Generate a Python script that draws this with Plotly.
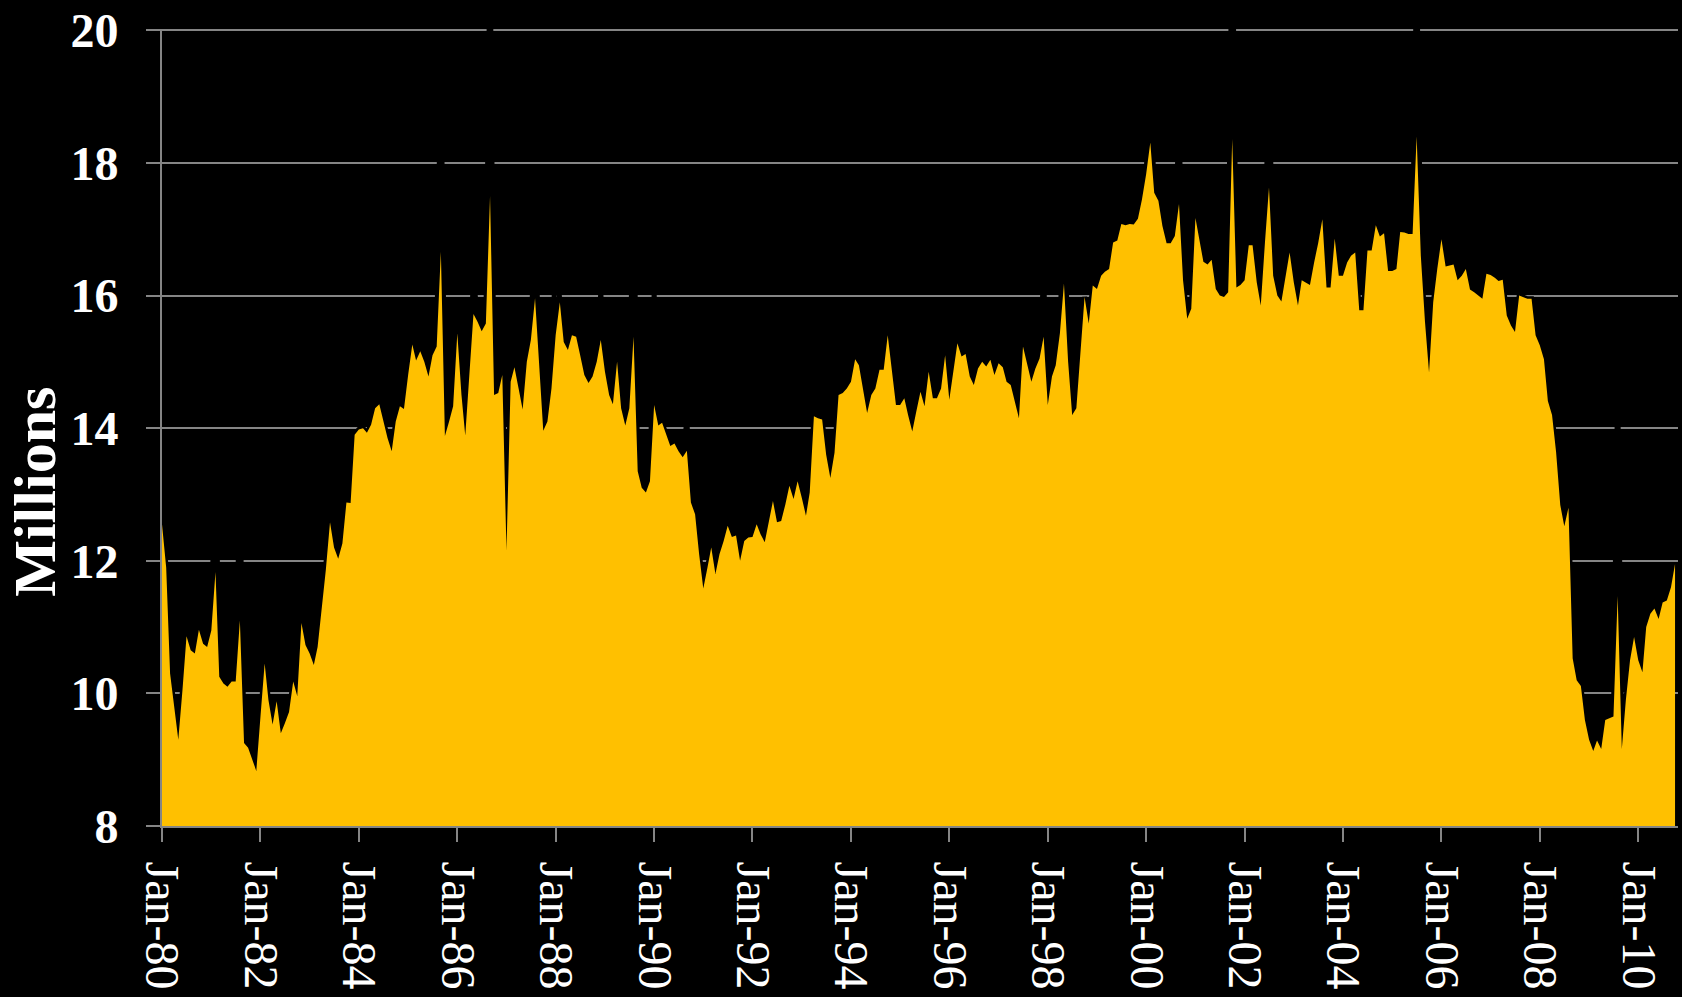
import pandas as pd
import plotly.graph_objects as go

# Monthly light-vehicle sales (SAAR, millions), Jan-1980 .. Oct-2010,
# as the top edge of the yellow area reads off the chart
start_month = "1980-01-01"
sales = [
    12.55, 11.9, 10.3, 9.8, 9.3, 10.05, 10.86, 10.65, 10.6, 10.96, 10.75, 10.7,      # 1980
    10.95, 11.83, 10.25, 10.15, 10.1, 10.18, 10.18, 11.1, 9.25, 9.18, 9.0, 8.83,     # 1981
    9.65, 10.45, 9.9, 9.53, 9.88, 9.4, 9.55, 9.72, 10.18, 9.96, 11.06, 10.73,        # 1982
    10.6, 10.43, 10.7, 11.3, 11.86, 12.58, 12.2, 12.03, 12.26, 12.88, 12.87, 13.9,   # 1983
    13.98, 14.0, 13.93, 14.05, 14.3, 14.36, 14.1, 13.85, 13.65, 14.1, 14.33, 14.29,  # 1984
    14.8, 15.26, 15.02, 15.16, 15.0, 14.78, 15.1, 15.23, 16.66, 13.88, 14.1, 14.33,  # 1985
    15.43, 14.5, 13.89, 14.8, 15.72, 15.6, 15.46, 15.58, 17.5, 14.5, 14.53, 14.8,    # 1986
    12.15, 14.7, 14.92, 14.6, 14.28, 15.0, 15.33, 15.96, 14.9, 13.96, 14.1, 14.6,    # 1987
    15.4, 15.9, 15.3, 15.18, 15.4, 15.38, 15.1, 14.8, 14.68, 14.78, 15.0, 15.33,     # 1988
    14.85, 14.5, 14.36, 15.0, 14.3, 14.04, 14.3, 15.38, 13.35, 13.1, 13.03, 13.2,    # 1989
    14.35, 14.04, 14.08, 13.9, 13.73, 13.77, 13.65, 13.56, 13.66, 12.88, 12.7, 12.1, # 1990
    11.58, 11.9, 12.2, 11.8, 12.1, 12.3, 12.53, 12.36, 12.38, 12.0, 12.3, 12.35,     # 1991
    12.36, 12.55, 12.4, 12.28, 12.6, 12.9, 12.58, 12.6, 12.85, 13.13, 12.93, 13.2,   # 1992
    12.95, 12.68, 13.03, 14.18, 14.15, 14.13, 13.6, 13.25, 13.63, 14.5, 14.53, 14.6, # 1993
    14.7, 15.04, 14.95, 14.6, 14.23, 14.5, 14.6, 14.88, 14.88, 15.4, 14.9, 14.35,    # 1994
    14.35, 14.45, 14.2, 13.95, 14.25, 14.55, 14.33, 14.85, 14.45, 14.45, 14.6, 15.1, # 1995
    14.43, 14.85, 15.28, 15.08, 15.12, 14.78, 14.65, 14.9, 15.0, 14.93, 15.03, 14.8, # 1996
    14.98, 14.92, 14.7, 14.65, 14.4, 14.15, 15.23, 14.95, 14.7, 14.9, 15.05, 15.38,  # 1997
    14.35, 14.78, 14.95, 15.43, 16.18, 15.0, 14.2, 14.3, 15.2, 15.98, 15.58, 16.15,  # 1998
    16.1, 16.3, 16.36, 16.4, 16.8, 16.83, 17.08, 17.06, 17.08, 17.07, 17.16, 17.45,  # 1999
    17.83, 18.31, 17.55, 17.43, 17.05, 16.79, 16.79, 16.9, 17.38, 16.23, 15.65, 15.8,  # 2000
    17.17, 16.79, 16.51, 16.47, 16.54, 16.1, 16.0, 15.98, 16.05, 18.36, 16.12, 16.16,  # 2001
    16.23, 16.76, 16.76, 16.2, 15.85, 16.8, 17.63, 16.3, 16.0, 15.91, 16.3, 16.65,     # 2002
    16.2, 15.85, 16.23, 16.2, 16.16, 16.5, 16.79, 17.15, 16.12, 16.12, 16.86, 16.3,    # 2003
    16.3, 16.5, 16.6, 16.65, 15.78, 15.78, 16.68, 16.68, 17.06, 16.89, 16.94, 16.37,   # 2004
    16.37, 16.4, 16.96, 16.95, 16.93, 16.93, 18.4, 16.6, 15.6, 14.84, 15.9, 16.4,      # 2005
    16.85, 16.44, 16.45, 16.47, 16.23, 16.3, 16.4, 16.09, 16.05, 16.0, 15.95, 16.33,   # 2006
    16.31, 16.27, 16.22, 16.24, 15.7, 15.55, 15.45, 16.0, 15.98, 15.95, 15.95, 15.4,   # 2007
    15.25, 15.04, 14.41, 14.2, 13.64, 12.84, 12.52, 12.8, 10.53, 10.2, 10.11, 9.6,     # 2008
    9.3, 9.13, 9.29, 9.16, 9.6, 9.63, 9.65, 11.47, 9.16, 9.9, 10.5, 10.85,             # 2009
    10.5, 10.32, 11.0, 11.2, 11.28, 11.12, 11.37, 11.4, 11.6, 11.95,                   # 2010
]
# Peak months whose thick black outline reaches well above the visible
# yellow needle (seen where it cuts the gridlines): estimated true peaks
spike_peaks = {
    "1981-02": 13.75, "1981-08": 13.17, "1985-09": 19.7, "1986-05": 16.3,
    "1986-09": 21.3, "1987-08": 17.25, "1988-01": 16.76, "1988-12": 16.05,
    "1989-08": 17.77, "1990-01": 16.05, "1990-09": 14.12, "1997-12": 16.31,
    "1998-05": 17.65, "2000-02": 19.25, "2000-09": 18.57, "2001-10": 21.9,
    "2002-07": 19.3, "2005-07": 20.97, "2009-08": 14.7,
}

months = pd.date_range(start_month, periods=len(sales), freq="MS")
outline = [spike_peaks.get(m.strftime("%Y-%m"), v) for m, v in zip(months, sales)]

y_ticks = [8, 10, 12, 14, 16, 18, 20]
y_title = "Millions"

SERIF = "Liberation Serif"
GRID = "#858585"
W, H = 1682, 997
ML, MR, MT, MB = 162, 4, 25, 171
PW, PH = W - ML - MR, H - MT - MB

fig = go.Figure()
# black outline (under the fill): only shows where it crosses gridlines
fig.add_trace(go.Scatter(
    x=months, y=outline, mode="lines",
    line=dict(color="#000000", width=5),
    hoverinfo="skip", showlegend=False,
))
# yellow area
fig.add_trace(go.Scatter(
    x=months, y=sales, mode="lines",
    line=dict(color="#FFC000", width=0),
    fill="tozeroy", fillcolor="#FFC000",
    hoverinfo="skip", showlegend=False,
))

fig.update_layout(
    width=W, height=H,
    margin=dict(l=ML, r=MR, t=MT, b=MB),
    paper_bgcolor="#000000", plot_bgcolor="#000000",
    showlegend=False,
    xaxis=dict(
        type="date",
        range=["1980-01-01", "2010-10-23"],
        tick0="1980-01-01", dtick="M24", tickformat="%b-%y",
        tickangle=90,
        showgrid=False, zeroline=False,
        showline=True, linecolor=GRID, linewidth=2,
        ticks="outside", ticklen=14, tickwidth=2, tickcolor=GRID,
        tickfont=dict(family=SERIF, size=48, color="#FFFFFF"),
        ticklabelstandoff=10,
    ),
    yaxis=dict(
        range=[8, 20.02], tickvals=y_ticks,
        showgrid=True, gridcolor=GRID, gridwidth=1.5,
        zeroline=False,
        showline=True, linecolor=GRID, linewidth=2,
        ticks="outside", ticklen=14, tickwidth=2, tickcolor=GRID,
        tickfont=dict(family=SERIF, size=48, color="#FFFFFF", weight="bold"),
        ticklabelstandoff=18,
    ),
    annotations=[dict(
        text=y_title, textangle=-90,
        xref="paper", yref="paper",
        x=(35 - ML) / PW, y=(MT + PH - 490) / PH,
        xanchor="center", yanchor="middle", showarrow=False,
        font=dict(family=SERIF, size=60, color="#FFFFFF", weight="bold"),
    )],
)

fig.write_html(
    "out.html",
    config={"displayModeBar": False},
    post_script="document.body.style.margin='0';"
                "document.body.style.background='#000';"
                "document.body.style.overflow='hidden';",
)
